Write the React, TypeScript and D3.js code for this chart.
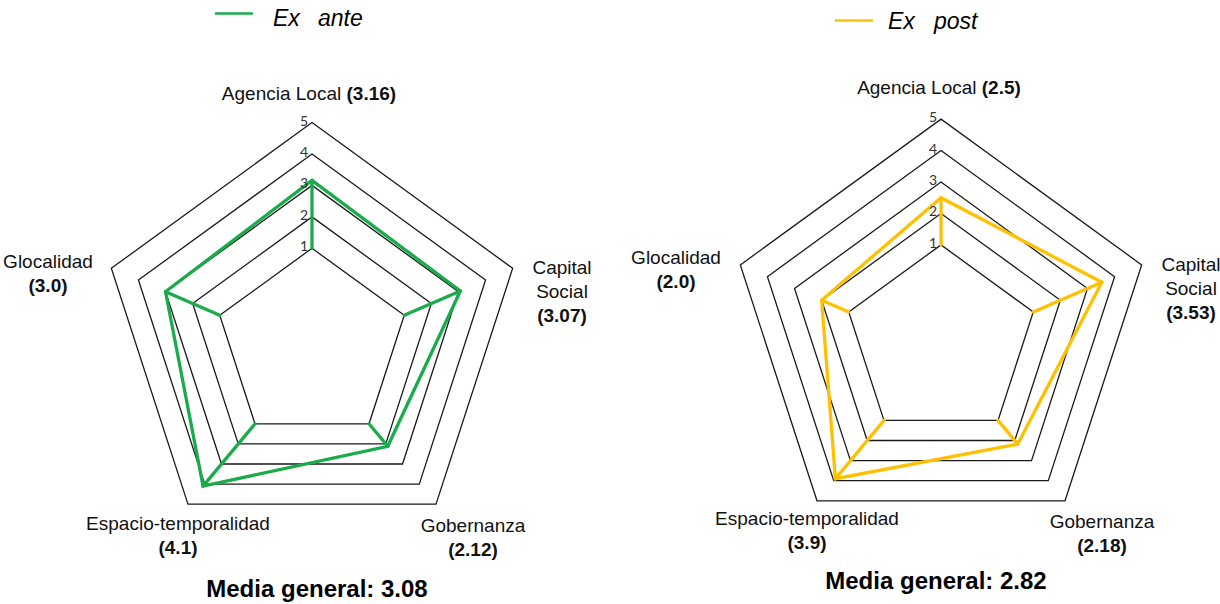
import React from "react";
import * as d3 from "d3";

// ---- data ----
const categories = ["Agencia Local", "Capital Social", "Gobernanza", "Espacio-temporalidad", "Glocalidad"];
const exAnteValues = [3.16, 3.07, 2.12, 4.1, 3.0];
const exPostValues = [2.5, 3.53, 2.18, 3.9, 2.0];
const exAnteLabels = ["3.16", "3.07", "2.12", "4.1", "3.0"];
const exPostLabels = ["2.5", "3.53", "2.18", "3.9", "2.0"];
const ringTicks = [1, 2, 3, 4, 5];
const seriesNames = [["Ex", "ante"], ["Ex", "post"]];
const seriesMeans = ["3.08", "2.82"];

// ---- styles ----
const GREEN = "#1aab4a";
const YELLOW = "#ffc000";
const FONT = "'Liberation Sans', Arial, sans-serif";

type Seg = [string, boolean];
type LabelDef = { lines: Seg[][]; x: number; y: number };

function labelDefs(valueLabels: string[], pos: number[][]): LabelDef[] {
  return [
    { lines: [[[categories[0] + " ", false], ["(" + valueLabels[0] + ")", true]]], x: pos[0][0], y: pos[0][1] },
    { lines: [[["Capital", false]], [["Social", false]], [["(" + valueLabels[1] + ")", true]]], x: pos[1][0], y: pos[1][1] },
    { lines: [[[categories[2], false]], [["(" + valueLabels[2] + ")", true]]], x: pos[2][0], y: pos[2][1] },
    { lines: [[[categories[3], false]], [["(" + valueLabels[3] + ")", true]]], x: pos[3][0], y: pos[3][1] },
    { lines: [[[categories[4], false]], [["(" + valueLabels[4] + ")", true]]], x: pos[4][0], y: pos[4][1] },
  ];
}

type ChartCfg = {
  cx: number;
  cy: number;
  values: number[];
  valueLabels: string[];
  color: string;
  labelPos: number[][];
  legendX: number;
  legendY: number;
  nameX: number[];
  nameY: number;
  name: string[];
  mean: string;
  meanX: number;
  meanY: number;
};

const charts: ChartCfg[] = [
  {
    cx: 312, cy: 339.4, values: exAnteValues, valueLabels: exAnteLabels, color: GREEN,
    labelPos: [[309, 100], [562, 274], [473, 532], [178, 530], [48, 268]],
    legendX: 215, legendY: 13.5, nameX: [273, 318], nameY: 26, name: seriesNames[0],
    mean: seriesMeans[0], meanX: 317, meanY: 597,
  },
  {
    cx: 941, cy: 336, values: exPostValues, valueLabels: exPostLabels, color: YELLOW,
    labelPos: [[939, 94], [1191, 271], [1102, 528], [807, 525], [676, 264]],
    legendX: 835, legendY: 20.5, nameX: [888, 934], nameY: 29, name: seriesNames[1],
    mean: seriesMeans[1], meanX: 936, meanY: 589,
  },
];

const rScale = d3.scaleLinear().domain([1, 5]).range([97, 211]);
const shiftScale = d3.scaleLinear().domain([1, 5]).range([5.9, -5.9]);
const angleScale = d3.scaleLinear().domain([0, categories.length]).range([0, 2 * Math.PI]);

function pt(cfg: ChartCfg, i: number, v: number): [number, number] {
  const a = angleScale(i);
  const r = rScale(v);
  return [cfg.cx + r * Math.sin(a), cfg.cy + shiftScale(v) - r * Math.cos(a)];
}

const closedLine = d3.line<[number, number]>().curve(d3.curveLinearClosed);

function Radar({ cfg }: { cfg: ChartCfg }) {
  const labels = labelDefs(cfg.valueLabels, cfg.labelPos);
  const dataPts = cfg.values.map((v, i) => pt(cfg, i, v));
  return (
    <g>
      {/* legend */}
      <line x1={cfg.legendX} x2={cfg.legendX + 38} y1={cfg.legendY} y2={cfg.legendY} stroke={cfg.color} strokeWidth={2.5} />
      {cfg.name.map((w, i) => (
        <text key={i} x={cfg.nameX[i]} y={cfg.nameY} fontFamily={FONT} fontSize={23} fontStyle="italic" fill="#000">
          {w}
        </text>
      ))}
      {/* rings */}
      {ringTicks.map((t) => (
        <path key={t} d={closedLine(categories.map((_, i) => pt(cfg, i, t))) || ""} fill="none" stroke="#1a1a1a" strokeWidth={1.3} />
      ))}
      {/* spokes from inner ring to data points */}
      {cfg.values.map((v, i) => {
        const [x0, y0] = pt(cfg, i, ringTicks[0]);
        const [x1, y1] = dataPts[i];
        return <line key={i} x1={x0} y1={y0} x2={x1} y2={y1} stroke={cfg.color} strokeWidth={3.3} strokeLinecap="round" />;
      })}
      {/* data polygon */}
      <path d={closedLine(dataPts) || ""} fill="none" stroke={cfg.color} strokeWidth={3.3} strokeLinejoin="miter" />
      {/* ring tick labels */}
      {ringTicks.map((t) => {
        const [x, y] = pt(cfg, 0, t);
        return (
          <text key={t} x={x - 4} y={y + 3} textAnchor="end" fontFamily="Lato, 'Open Sans', sans-serif" fontSize={14} fill="#333">
            {t}
          </text>
        );
      })}
      {/* axis labels */}
      {labels.map((l, i) => (
        <text key={i} x={l.x} y={l.y} textAnchor="middle" fontFamily={FONT} fontSize={19} fill="#111">
          {l.lines.map((line, j) => (
            <tspan key={j} x={l.x} dy={j === 0 ? 0 : 24}>
              {line.map((s, k) => (
                <tspan key={k} fontWeight={s[1] ? "bold" : "normal"}>{s[0]}</tspan>
              ))}
            </tspan>
          ))}
        </text>
      ))}
      {/* mean */}
      <text x={cfg.meanX} y={cfg.meanY} textAnchor="middle" fontFamily={FONT} fontSize={24} fontWeight="bold" fill="#000">
        {"Media general: " + cfg.mean}
      </text>
    </g>
  );
}

export default function App() {
  return (
    <svg width={1220} height={604} style={{ position: "absolute", left: 0, top: 0, background: "#fff" }}>
      <rect width={1220} height={604} fill="#fff" />
      {charts.map((c, i) => (
        <Radar key={i} cfg={c} />
      ))}
    </svg>
  );
}
